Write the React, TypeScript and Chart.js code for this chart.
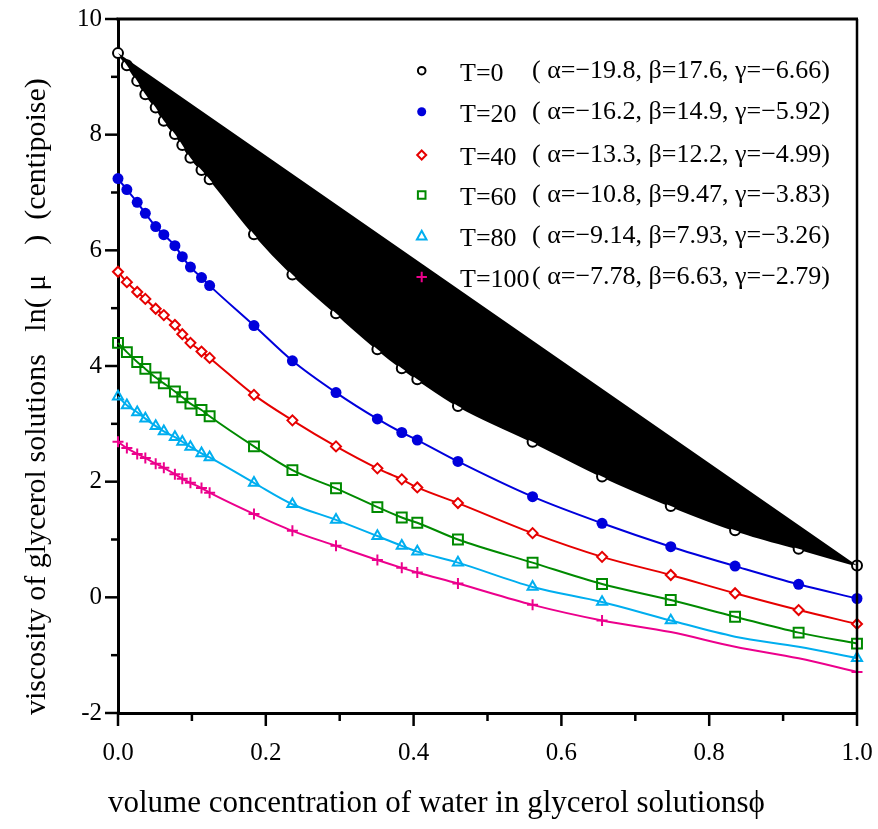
import React, { useEffect, useRef } from "react";
import { Chart, registerables } from "chart.js";

Chart.register(...registerables);

// volume concentration of water (x)
const phi = [0, 0.012, 0.026, 0.037, 0.051, 0.062, 0.077, 0.087, 0.098, 0.113, 0.124, 0.184, 0.236, 0.295, 0.351, 0.384, 0.405, 0.46, 0.561, 0.655, 0.748, 0.835, 0.921, 1.0];

// ln(mu) for each temperature
const T0 = [9.41, 9.2, 8.93, 8.7, 8.47, 8.24, 8.01, 7.82, 7.6, 7.39, 7.23, 6.28, 5.58, 4.91, 4.29, 3.96, 3.77, 3.31, 2.69, 2.09, 1.58, 1.16, 0.84, 0.55];
const T20 = [7.24, 7.05, 6.83, 6.64, 6.41, 6.27, 6.08, 5.89, 5.71, 5.53, 5.39, 4.7, 4.09, 3.54, 3.085, 2.85, 2.72, 2.35, 1.74, 1.28, 0.875, 0.54, 0.225, -0.02];
const T40 = [5.63, 5.45, 5.28, 5.16, 4.99, 4.88, 4.71, 4.55, 4.4, 4.25, 4.14, 3.5, 3.06, 2.61, 2.23, 2.04, 1.9, 1.63, 1.11, 0.7, 0.386, 0.07, -0.22, -0.46];
const T60 = [4.4, 4.24, 4.07, 3.95, 3.8, 3.7, 3.56, 3.46, 3.35, 3.24, 3.13, 2.61, 2.2, 1.885, 1.56, 1.38, 1.29, 1.0, 0.6, 0.23, -0.047, -0.335, -0.61, -0.8];
const T80 = [3.47, 3.32, 3.2, 3.09, 2.96, 2.87, 2.77, 2.69, 2.6, 2.49, 2.42, 1.98, 1.61, 1.34, 1.06, 0.89, 0.79, 0.6, 0.18, -0.08, -0.4, -0.68, -0.855, -1.05];
const T100 = [2.69, 2.58, 2.48, 2.41, 2.31, 2.24, 2.13, 2.05, 1.98, 1.89, 1.81, 1.44, 1.15, 0.89, 0.645, 0.51, 0.43, 0.24, -0.13, -0.4, -0.6, -0.855, -1.055, -1.29];

// indices where the curve has no measured marker (curve only)
const T80_curveOnly = [21, 22];
const T100_curveOnly = [20, 21, 22];

const seriesNames = ["T=0", "T=20", "T=40", "T=60", "T=80", "T=100"];
const alphas = ["\u221219.8", "\u221216.2", "\u221213.3", "\u221210.8", "\u22129.14", "\u22127.78"];
const betas = ["17.6", "14.9", "12.2", "9.47", "7.93", "6.63"];
const gammas = ["\u22126.66", "\u22125.92", "\u22124.99", "\u22123.83", "\u22123.26", "\u22122.79"];

const yMajorTicks = [-2, 0, 2, 4, 6, 8, 10];
const yMinorTicks = [-1, 1, 3, 5, 7, 9];
const xMajorTicks = [0, 0.2, 0.4, 0.6, 0.8, 1.0];
const xMinorTicks = [0.1, 0.3, 0.5, 0.7, 0.9];
const xTickLabels = ["0.0", "0.2", "0.4", "0.6", "0.8", "1.0"];

const xTitle = "volume concentration of water in glycerol solutions\u03D5";
const yTitle = "viscosity of glycerol solutions   ln( \u03BC    )  (centipoise)";

const COLORS = ["#000000", "#0000dc", "#e60000", "#008a00", "#00aeef", "#ec008c"];
const STYLES = ["circle", "circle", "rectRot", "rect", "triangle", "cross"];
const FONT = "'Liberation Serif', 'Times New Roman', serif";

const W = 878;
const H = 829;

function pts(ys: number[]) {
  return ys.map((y, i) => ({ x: phi[i], y }));
}

function drawMarker(ctx: CanvasRenderingContext2D, style: string, color: string, x: number, y: number) {
  ctx.save();
  ctx.strokeStyle = color;
  ctx.fillStyle = color;
  ctx.lineWidth = 2;
  ctx.beginPath();
  if (style === "open-circle") {
    ctx.arc(x, y, 3.8, 0, Math.PI * 2);
    ctx.stroke();
  } else if (style === "filled-circle") {
    ctx.arc(x, y, 4.5, 0, Math.PI * 2);
    ctx.fill();
  } else if (style === "diamond") {
    ctx.moveTo(x, y - 4.5);
    ctx.lineTo(x + 4.5, y);
    ctx.lineTo(x, y + 4.5);
    ctx.lineTo(x - 4.5, y);
    ctx.closePath();
    ctx.stroke();
  } else if (style === "square") {
    ctx.rect(x - 3.8, y - 3.8, 7.6, 7.6);
    ctx.stroke();
  } else if (style === "triangle") {
    ctx.moveTo(x, y - 5.2);
    ctx.lineTo(x + 4.8, y + 3.6);
    ctx.lineTo(x - 4.8, y + 3.6);
    ctx.closePath();
    ctx.stroke();
  } else if (style === "plus") {
    ctx.moveTo(x - 5.2, y);
    ctx.lineTo(x + 5.2, y);
    ctx.moveTo(x, y - 5.2);
    ctx.lineTo(x, y + 5.2);
    ctx.stroke();
  }
  ctx.restore();
}

const legendMarkers = ["open-circle", "filled-circle", "diamond", "square", "triangle", "plus"];

const decorPlugin = {
  id: "decor",
  afterDraw(chart: any) {
    const { ctx, chartArea: a, scales } = chart;
    const xs = scales.x;
    const ys = scales.y;
    ctx.save();
    ctx.strokeStyle = "#000";
    // frame top & right
    ctx.lineWidth = 3;
    ctx.beginPath();
    ctx.moveTo(a.left - 1.5, a.top);
    ctx.lineTo(a.right + 1, a.top);
    ctx.stroke();
    ctx.lineWidth = 2.5;
    ctx.beginPath();
    ctx.moveTo(a.right, a.top);
    ctx.lineTo(a.right, a.bottom);
    ctx.stroke();
    // ticks
    ctx.lineWidth = 2.5;
    const yT = (v: number, len: number) => {
      const p = ys.getPixelForValue(v);
      ctx.beginPath();
      ctx.moveTo(a.left - len, p);
      ctx.lineTo(a.left, p);
      ctx.stroke();
    };
    yMajorTicks.forEach((v) => yT(v, 13));
    yMinorTicks.forEach((v) => yT(v, 7));
    const xT = (v: number, len: number) => {
      const p = xs.getPixelForValue(v);
      ctx.beginPath();
      ctx.moveTo(p, a.bottom);
      ctx.lineTo(p, a.bottom + len);
      ctx.stroke();
    };
    xMajorTicks.forEach((v) => xT(v, 13));
    xMinorTicks.forEach((v) => xT(v, 8));

    // x tick labels
    ctx.font = `25px ${FONT}`;
    ctx.fillStyle = "#000";
    ctx.textAlign = "center";
    ctx.textBaseline = "middle";
    xMajorTicks.forEach((v, i) => {
      ctx.fillText(xTickLabels[i], xs.getPixelForValue(v), a.bottom + 40);
    });

    // legend
    const rowY = [70.7, 111.7, 155, 195, 236, 277];
    const markerX = 421.7;
    const labelX = 460;
    const parenX = 532;
    ctx.font = `26px ${FONT}`;
    ctx.fillStyle = "#000";
    ctx.textBaseline = "middle";
    ctx.textAlign = "left";
    seriesNames.forEach((name, i) => {
      const y = rowY[i];
      drawMarker(ctx, legendMarkers[i], COLORS[i], markerX, y);
      ctx.fillStyle = "#000";
      ctx.fillText(name, labelX, y + 3);
      const w = ctx.measureText(name).width;
      const px = Math.max(parenX, labelX + w);
      ctx.fillText(`( \u03B1=${alphas[i]}, \u03B2=${betas[i]}, \u03B3=${gammas[i]})`, px, y);
    });

    // axis titles
    ctx.font = `31px ${FONT}`;
    ctx.textBaseline = "alphabetic";
    ctx.textAlign = "left";
    ctx.fillText(xTitle, 108, 812);
    ctx.font = `30px ${FONT}`;
    ctx.save();
    ctx.translate(45, 715);
    ctx.rotate(-Math.PI / 2);
    ctx.fillText(yTitle, 0, 0);
    ctx.restore();
    ctx.restore();
  },
};

function radiusFor(base: number, skip: number[]) {
  return (c: any) => (skip.indexOf(c.dataIndex) >= 0 ? 0 : base);
}

export default function App() {
  const ref = useRef<HTMLCanvasElement | null>(null);
  useEffect(() => {
    if (!ref.current) return;
    const prevMargin = document.body.style.margin;
    document.body.style.margin = "0";
    document.body.style.overflow = "hidden";
    const common = {
      showLine: true,
      borderWidth: 2,
      cubicInterpolationMode: "monotone" as const,
      clip: false as const,
      pointBorderWidth: 2,
      pointHoverRadius: 0,
    };
    const chart = new Chart(ref.current, {
      type: "line",
      data: {
        datasets: [
          {
            label: "chord",
            data: [
              { x: phi[0], y: T0[0] },
              { x: phi[phi.length - 1], y: T0[T0.length - 1] },
            ],
            borderWidth: 0,
            borderColor: "rgba(0,0,0,0)",
            backgroundColor: "#000",
            pointRadius: 0,
            fill: "+1",
            order: -1,
            clip: false,
          } as any,
          {
            ...common,
            label: seriesNames[0],
            data: pts(T0),
            borderColor: COLORS[0],
            pointStyle: STYLES[0],
            pointRadius: 5,
            pointBackgroundColor: "#fff",
            pointBorderColor: COLORS[0],
            fill: false,
          },
          {
            ...common,
            label: seriesNames[1],
            data: pts(T20),
            borderColor: COLORS[1],
            pointStyle: STYLES[1],
            pointRadius: 5.5,
            pointBackgroundColor: COLORS[1],
            pointBorderColor: COLORS[1],
            pointBorderWidth: 0,
            fill: false,
          },
          {
            ...common,
            label: seriesNames[2],
            data: pts(T40),
            borderColor: COLORS[2],
            pointStyle: STYLES[2],
            pointRadius: 5,
            pointBackgroundColor: "#fff",
            pointBorderColor: COLORS[2],
            fill: false,
          },
          {
            ...common,
            label: seriesNames[3],
            data: pts(T60),
            borderColor: COLORS[3],
            pointStyle: STYLES[3],
            pointRadius: 7,
            pointBackgroundColor: "rgba(255,255,255,0)",
            pointBorderColor: COLORS[3],
            fill: false,
          },
          {
            ...common,
            label: seriesNames[4],
            data: pts(T80),
            borderColor: COLORS[4],
            pointStyle: STYLES[4],
            pointRadius: radiusFor(5.8, T80_curveOnly),
            pointBackgroundColor: "rgba(255,255,255,0)",
            pointBorderColor: COLORS[4],
            fill: false,
          },
          {
            ...common,
            label: seriesNames[5],
            data: pts(T100),
            borderColor: COLORS[5],
            pointStyle: STYLES[5],
            pointRadius: radiusFor(5.5, T100_curveOnly),
            pointBackgroundColor: COLORS[5],
            pointBorderColor: COLORS[5],
            fill: false,
          },
        ],
      },
      options: {
        responsive: false,
        animation: false,
        events: [],
        layout: { padding: { top: 19, right: 21, left: 0, bottom: 0 } },
        plugins: {
          legend: { display: false },
          tooltip: { enabled: false },
          title: { display: false },
        },
        scales: {
          x: {
            type: "linear",
            min: 0,
            max: 1,
            afterFit: (s: any) => {
              s.height = 116;
              s.paddingLeft = 0;
              s.paddingRight = 0;
            },
            ticks: {
              display: false,
              stepSize: 0.2,
            },
            grid: { drawOnChartArea: false, drawTicks: false },
            border: { display: true, color: "#000", width: 3 },
          },
          y: {
            type: "linear",
            min: -2,
            max: 10,
            afterFit: (s: any) => {
              s.width = 118;
              s.paddingTop = 0;
              s.paddingBottom = 0;
            },
            ticks: {
              stepSize: 2,
              callback: (v: any) => String(v),
              font: { family: FONT, size: 25 },
              color: "#000",
              padding: 16,
            },
            grid: { drawOnChartArea: false, drawTicks: false },
            border: { display: true, color: "#000", width: 3 },
          },
        },
      },
      plugins: [decorPlugin],
    });
    return () => {
      chart.destroy();
      document.body.style.margin = prevMargin;
    };
  }, []);
  return (
    <div style={{ width: W, height: H }}>
      <canvas ref={ref} width={W} height={H} style={{ display: "block" }} />
    </div>
  );
}
